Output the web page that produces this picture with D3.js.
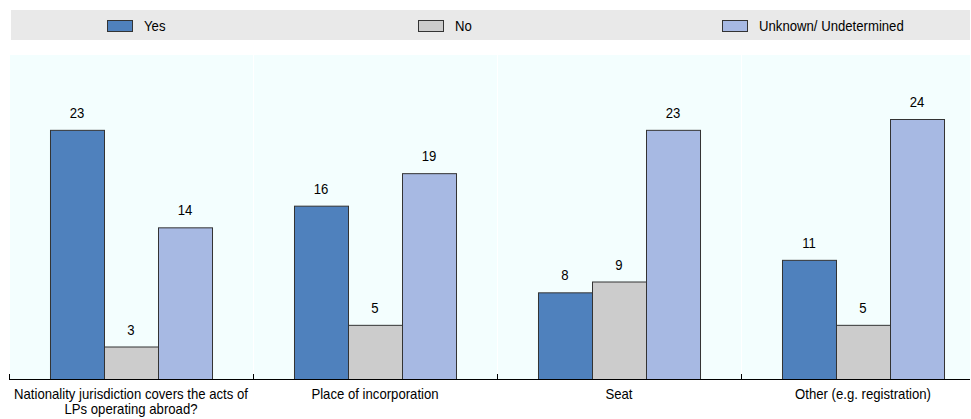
<!DOCTYPE html>
<html>
<head>
<meta charset="utf-8">
<script src="https://cdn.jsdelivr.net/npm/d3@7"></script>
<style>
  html, body { margin: 0; padding: 0; background: #ffffff; }
  svg { display: block; }
  text { font-family: 'Liberation Sans', Arial, sans-serif; fill: #000; font-size: 14px; }
</style>
</head>
<body>
<svg id="chart" width="971" height="419"></svg>
<script>
const categories = [
  "Nationality jurisdiction covers the acts of LPs operating abroad?",
  "Place of incorporation",
  "Seat",
  "Other (e.g. registration)"
];
const seriesNames = ["Yes", "No", "Unknown/ Undetermined"];
const yesValues = [23, 16, 8, 11];
const noValues = [3, 5, 9, 5];
const unknownValues = [14, 19, 23, 24];
const seriesColors = ["#4F81BD", "#CCCCCC", "#A7B9E3"];

const seriesValues = [yesValues, noValues, unknownValues];
const data = categories.map((c, i) => ({
  category: c,
  values: seriesNames.map((s, j) => ({ series: s, value: seriesValues[j][i], color: seriesColors[j] }))
}));

const SX = 0.94; // horizontal condensation to mimic narrow font
const svg = d3.select("#chart");
const plotLeft = 9, plotTop = 55, axisY = 379, plotRightVisible = 970;

const x0 = d3.scaleBand().domain(categories).range([plotLeft, plotLeft + 976]).paddingInner(0).paddingOuter(0);
const x1 = d3.scaleBand().domain(seriesNames).range([0, x0.bandwidth()]).paddingInner(0).paddingOuter(0.759);
const y = d3.scaleLinear().domain([0, 30]).range([axisY, plotTop - 1]);

function placeText(sel, x, yy) {
  return sel.attr("transform", `translate(${x},${yy}) scale(${SX},1)`);
}

// legend band
svg.append("rect").attr("x", 11).attr("y", 10).attr("width", plotRightVisible - 11).attr("height", 30).attr("fill", "#E9E9E9");
const legendPos = [107, 418, 722];
seriesNames.forEach((s, j) => {
  const g = svg.append("g").attr("transform", `translate(${legendPos[j]},20)`);
  g.append("rect").attr("x", 0.5).attr("y", 0.5).attr("width", 25).attr("height", 11)
    .attr("fill", seriesColors[j]).attr("stroke", "#333").attr("stroke-width", 1);
  placeText(g.append("text"), 37, 11).text(s);
});

// plot background
svg.append("rect").attr("x", 10).attr("y", plotTop).attr("width", plotRightVisible - 10).attr("height", axisY - plotTop)
  .attr("fill", "#F3FEFE");
svg.selectAll(".divider").data(categories.slice(1)).join("line")
  .attr("x1", d => Math.round(x0(d)) + 0.5).attr("x2", d => Math.round(x0(d)) + 0.5)
  .attr("y1", plotTop).attr("y2", axisY)
  .attr("stroke", "#ffffff").attr("stroke-width", 1);

// bars
const groups = svg.selectAll(".grp").data(data).join("g").attr("class", "grp")
  .attr("transform", d => `translate(${x0(d.category)},0)`);
groups.selectAll("rect").data(d => d.values).join("rect")
  .attr("x", d => x1(d.series) + 0.5)
  .attr("y", d => y(d.value) + 0.5)
  .attr("width", x1.bandwidth())
  .attr("height", d => axisY - y(d.value))
  .attr("fill", d => d.color)
  .attr("stroke", "#333")
  .attr("stroke-width", 1);
groups.selectAll("text.val").data(d => d.values).join("text").attr("class", "val")
  .attr("text-anchor", "middle")
  .attr("transform", d => `translate(${x1(d.series) + x1.bandwidth() / 2},${y(d.value) - 12}) scale(${SX},1)`)
  .text(d => d.value);

// axis line and boundary ticks
const axG = svg.append("g").attr("transform", `translate(0,${axisY})`);
axG.append("line").attr("x1", plotLeft).attr("x2", plotRightVisible).attr("y1", 0.5).attr("y2", 0.5)
  .attr("stroke", "#000").attr("stroke-width", 1.1);
axG.selectAll(".tk").data(categories.map(c => x0(c))).join("line")
  .attr("x1", d => Math.round(d) + 0.5).attr("x2", d => Math.round(d) + 0.5)
  .attr("y1", -5).attr("y2", 0.5).attr("stroke", "#000").attr("stroke-width", 1);

// category labels via d3 axis
const axis = d3.axisBottom(x0).tickSize(0).tickPadding(0);
const labG = svg.append("g").attr("transform", `translate(0,${axisY})`).call(axis);
labG.select(".domain").remove();
labG.selectAll(".tick text")
  .attr("font-size", null).attr("fill", "#000").attr("font-family", null)
  .attr("dy", null).attr("y", null)
  .attr("transform", `scale(${SX},1)`)
  .each(function(d) {
    const t = d3.select(this);
    const words = d.split(/\s+/);
    t.text(null);
    let line = [], lineNo = 0;
    let tspan = t.append("tspan").attr("x", 0).attr("y", 20);
    for (const w of words) {
      line.push(w);
      tspan.text(line.join(" "));
      if (tspan.node().getComputedTextLength() * SX > 240 && line.length > 1) {
        line.pop();
        tspan.text(line.join(" "));
        line = [w];
        lineNo++;
        tspan = t.append("tspan").attr("x", 0).attr("y", 20 + lineNo * 15).text(w);
      }
    }
  });
</script>
</body>
</html>
